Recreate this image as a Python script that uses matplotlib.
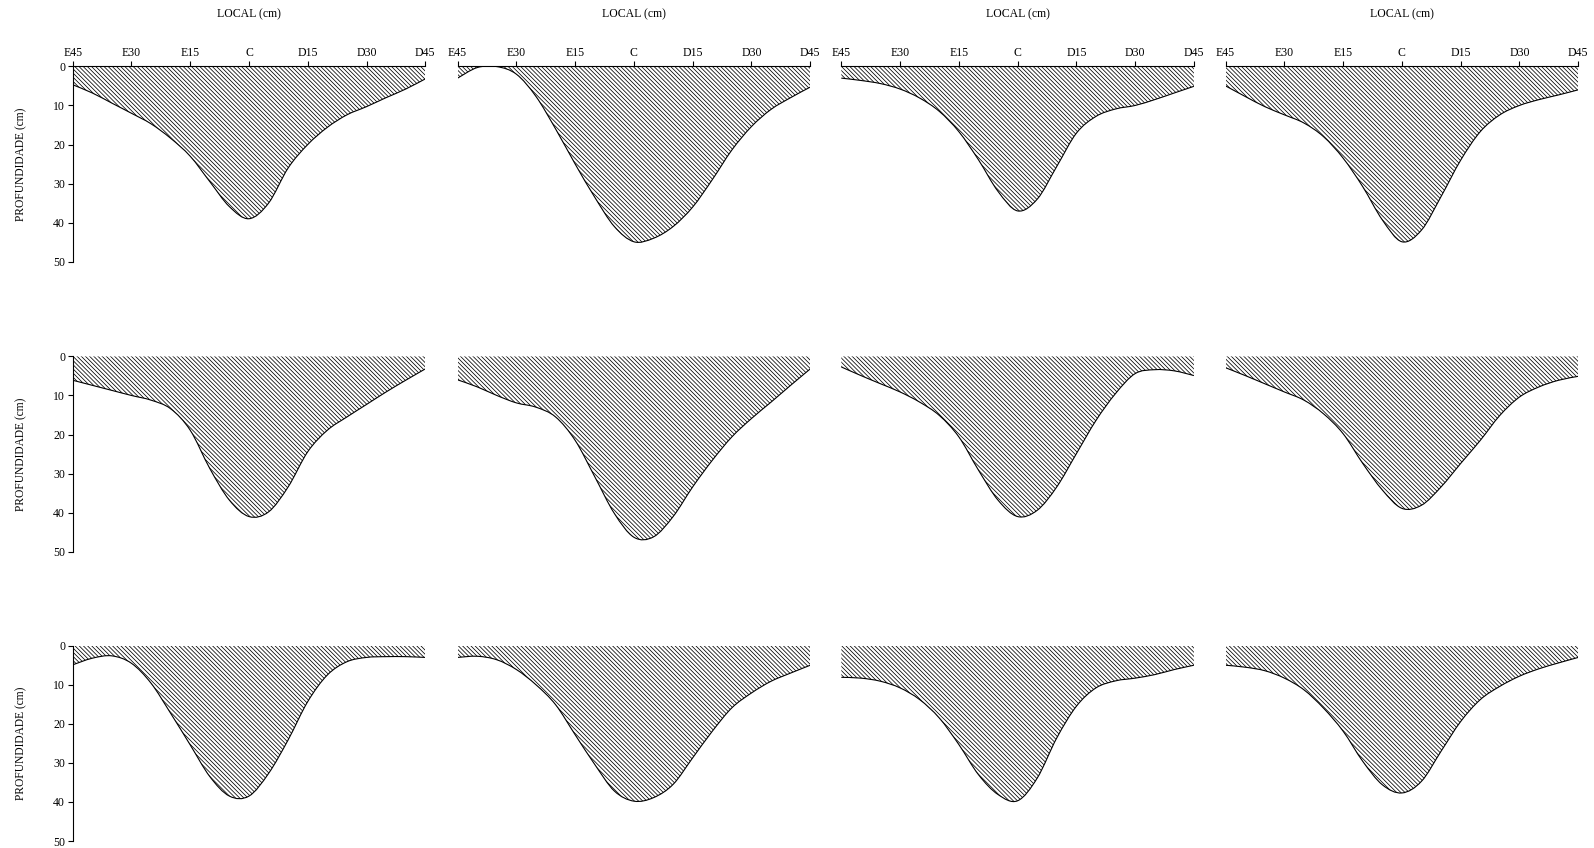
import numpy as np
import matplotlib
matplotlib.use('Agg')
import matplotlib.pyplot as plt
from matplotlib.path import Path
from matplotlib.patches import PathPatch

plt.rcParams['font.family'] = ['Liberation Serif', 'DejaVu Serif']
plt.rcParams['hatch.linewidth'] = 0.55

# posicao ao longo do perfil (cm), E = esquerda, D = direita
posicao = [-45, -40, -35, -30, -25, -20, -15, -10, -5, 0, 5, 10, 15, 20, 25, 30, 35, 40, 45]
tick_pos = [-45, -30, -15, 0, 15, 30, 45]
tick_labels = ['E45', 'E30', 'E15', 'C', 'D15', 'D30', 'D45']
depth_ticks = [0, 10, 20, 30, 40, 50]

# profundidade (cm) de cada perfil, linha x coluna
prof_l1c1 = [4.7, 6.8, 9.4, 12, 14.7, 18.4, 23, 29.5, 35.9, 39, 35, 26, 20, 15.6, 12.4, 10.3, 8, 5.8, 3.2]
prof_l1c2 = [3, 0.3, 0.05, 2, 7.7, 16, 25, 33.5, 41, 44.9, 44, 41, 36, 29, 21.4, 15.4, 11, 8, 5.3]
prof_l1c3 = [3, 3.6, 4.4, 5.8, 8.1, 11.5, 16.7, 23.9, 32, 37, 34, 25.6, 17.1, 12.8, 10.9, 10, 8.5, 6.8, 5.1]
prof_l1c4 = [5, 7.7, 10.3, 12.4, 14.5, 18, 23.5, 30.8, 39.3, 44.9, 41.9, 33.3, 24, 16.7, 12.4, 10, 8.5, 7.3, 6]
prof_l2c1 = [6.1, 7.4, 8.7, 10, 11.2, 13.4, 18.9, 28.7, 36.8, 41, 39.8, 33.4, 24.4, 18.9, 15.5, 12.3, 9.1, 6.1, 3.2]
prof_l2c2 = [6, 7.8, 10, 11.9, 13, 15.5, 21.5, 30.8, 40.2, 46.3, 46.2, 41, 33.4, 26.6, 20.6, 15.9, 11.7, 7.4, 3.2]
prof_l2c3 = [2.7, 4.9, 7, 9.1, 11.7, 15.1, 20.6, 29.1, 36.8, 41, 39.4, 33.4, 24.9, 16.4, 9.5, 4.4, 3.4, 3.7, 4.9]
prof_l2c4 = [2.9, 4.9, 7, 9.1, 11.2, 14.7, 19.8, 27.4, 34.2, 38.9, 38.1, 33.4, 27.4, 21.5, 15.1, 10.4, 7.8, 6.1, 5.1]
prof_l3c1 = [4.9, 3.2, 2.6, 4.5, 9.6, 17.3, 25.4, 33.5, 38.5, 38.5, 32.7, 24.1, 14.3, 7.5, 4.1, 3, 2.8, 2.8, 3]
prof_l3c2 = [3, 2.7, 3.6, 6.1, 10, 15.1, 22.8, 30.4, 37.2, 39.8, 38.9, 35.5, 28.7, 21.9, 15.9, 12.1, 9.1, 7, 5]
prof_l3c3 = [8.1, 8.3, 9.1, 10.8, 13.8, 18.5, 25.3, 33, 38.1, 39.7, 33.9, 23.6, 15.5, 10.8, 9, 8.3, 7.4, 6.1, 5]
prof_l3c4 = [5, 5.5, 6.4, 8.3, 11.3, 16, 21.9, 29.6, 35.6, 37.7, 34.7, 27, 19.4, 13.8, 10.4, 7.8, 5.9, 4.4, 3]

perfis = [
    [prof_l1c1, prof_l1c2, prof_l1c3, prof_l1c4],
    [prof_l2c1, prof_l2c2, prof_l2c3, prof_l2c4],
    [prof_l3c1, prof_l3c2, prof_l3c3, prof_l3c4],
]


def smooth_path(xs, ys, fechar=False):
    # curva suavizada (catmull-rom em bezier) como a linha suave do excel
    pts = np.column_stack([xs, ys]).astype(float)
    verts = [pts[0]]
    codes = [Path.MOVETO]
    n = len(pts)
    for i in range(n - 1):
        p0 = pts[i - 1] if i > 0 else pts[i]
        p1 = pts[i]
        p2 = pts[i + 1]
        p3 = pts[i + 2] if i + 2 < n else pts[i + 1]
        verts += [p1 + (p2 - p0) / 6, p2 - (p3 - p1) / 6, p2]
        codes += [Path.CURVE4] * 3
    if fechar:
        verts += [(xs[-1], 0), (xs[0], 0), (0, 0)]
        codes += [Path.LINETO, Path.LINETO, Path.CLOSEPOLY]
    return Path(verts, codes)


fig = plt.figure(figsize=(15.94, 8.48), dpi=100)

lefts = [0.0456, 0.2871, 0.5278, 0.7689]
bottoms = [0.6914, 0.3494, 0.00825]
w = 0.2212
h = 0.2303

for r in range(3):
    for c in range(4):
        ax = fig.add_axes([lefts[c], bottoms[r], w, h])
        prof = perfis[r][c]

        fill = PathPatch(smooth_path(posicao, prof, fechar=True), facecolor='none',
                         edgecolor='black', linewidth=0, hatch='\\' * 8)
        ax.add_patch(fill)
        linha = PathPatch(smooth_path(posicao, prof), facecolor='none',
                          edgecolor='black', linewidth=0.8)
        ax.add_patch(linha)

        ax.set_xlim(-45, 45)
        ax.set_ylim(50, 0)

        for s in ['bottom', 'right']:
            ax.spines[s].set_visible(False)
        ax.spines['left'].set_visible(c == 0)
        ax.spines['top'].set_visible(r == 0)
        ax.spines['left'].set_linewidth(0.8)
        ax.spines['top'].set_linewidth(0.8)

        if r == 0:
            ax.xaxis.tick_top()
            ax.set_xticks(tick_pos)
            ax.set_xticklabels(tick_labels)
            ax.tick_params(axis='x', direction='out', length=3.5, width=0.8, pad=2, labelsize=8.5)
            ax.xaxis.set_label_position('top')
            ax.set_xlabel('LOCAL (cm)', fontsize=8.5)
            ax.xaxis.set_label_coords(0.5, 1.25)
        else:
            ax.set_xticks([])

        if c == 0:
            ax.set_yticks(depth_ticks)
            ax.tick_params(axis='y', direction='out', length=3.5, width=0.8, pad=2, labelsize=8.5)
            ax.set_ylabel('PROFUNDIDADE (cm)', fontsize=8.3)
            ax.yaxis.set_label_coords(-0.13, 0.5)
        else:
            ax.set_yticks([])

fig.savefig('out.png', dpi=100)
